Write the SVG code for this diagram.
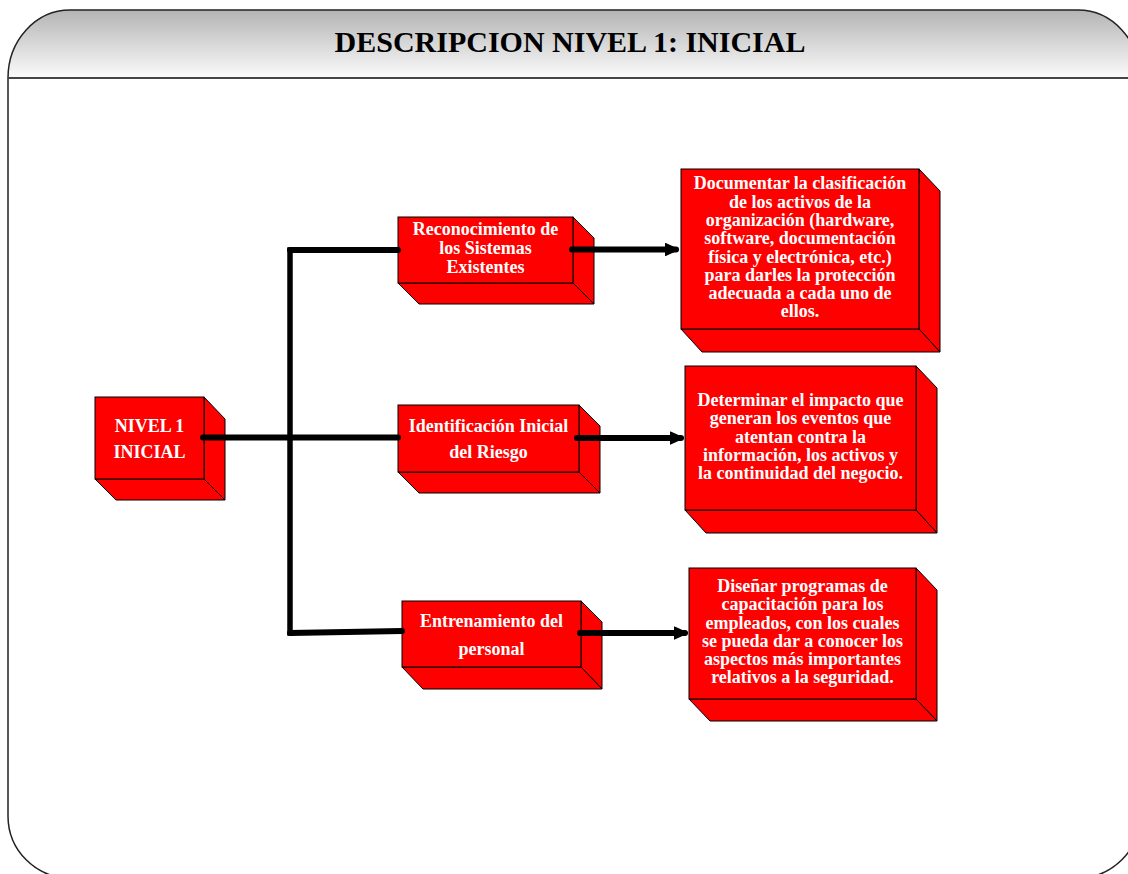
<svg xmlns="http://www.w3.org/2000/svg" width="1128" height="874" viewBox="0 0 1128 874">
  <style>
    .face { fill: #ff0000; stroke: #000000; stroke-width: 1; stroke-linejoin: miter; }
    .label { font-family: "Liberation Serif", "Times New Roman", serif; font-weight: bold; font-size: 18px; fill: #ffffff; text-anchor: middle; }
    .title { font-family: "Liberation Serif", "Times New Roman", serif; font-weight: bold; font-size: 30px; fill: #000000; text-anchor: middle; }
    .wire { fill: none; stroke: #000000; stroke-width: 6; stroke-linecap: round; stroke-linejoin: round; }
    .trunk { fill: none; stroke: #000000; stroke-width: 5.5; stroke-linecap: butt; }
  </style>
  <defs>
    <linearGradient id="headerFill" x1="0" y1="0" x2="0" y2="1">
      <stop offset="0" stop-color="#b4b4b4"/>
      <stop offset="1" stop-color="#fbfbfb"/>
    </linearGradient>
    <marker id="arrowHead" viewBox="0 0 10 10" refX="8" refY="5" markerWidth="2.2" markerHeight="2.2" orient="auto" markerUnits="strokeWidth">
      <path d="M0,0.5 L10,5 L0,9.5 Z" fill="#000000" stroke="#000000" stroke-width="1" stroke-linejoin="round"/>
    </marker>
  </defs>

  <rect x="0" y="0" width="1128" height="874" fill="#ffffff"/>

  <!-- slide frame with shaded header band -->
  <g id="frame">
    <path d="M8,78 A62,68 0 0 1 70,10 L1078,10 A62,68 0 0 1 1140,78 Z" fill="url(#headerFill)"/>
    <path d="M8,78 A62,68 0 0 1 70,10 L1078,10 A62,68 0 0 1 1140,78 L1140,816 A62,62 0 0 1 1078,878 L70,878 A62,62 0 0 1 8,816 Z" fill="none" stroke="#222222" stroke-width="1.5"/>
    <line x1="8" y1="78" x2="1140" y2="78" stroke="#444444" stroke-width="2"/>
    <text class="title" x="570" y="52">DESCRIPCION NIVEL 1: INICIAL</text>
  </g>

  <!-- level node -->
  <g id="nivel1">
    <polygon class="face" points="204,397 225,419 225,500 204,479"/>
    <polygon class="face" points="95,479 204,479 225,500 116,500"/>
    <rect class="face" x="95" y="397" width="109" height="82"/>
    <text class="label" x="149.5" y="431.5">NIVEL 1<tspan x="149.5" y="458.3">INICIAL</tspan></text>
  </g>

  <!-- activity nodes -->
  <g id="reconocimiento">
    <polygon class="face" points="573,217 594,238 594,304 573,283"/>
    <polygon class="face" points="398,283 573,283 594,304 419,304"/>
    <rect class="face" x="398" y="217" width="175" height="66"/>
    <text class="label" x="485.5" y="235">Reconocimiento de<tspan x="485.5" y="254">los Sistemas</tspan><tspan x="485.5" y="272.7">Existentes</tspan></text>
  </g>

  <g id="identificacion">
    <polygon class="face" points="579,405 600,426 600,493 579,472"/>
    <polygon class="face" points="398,472 579,472 600,493 419,493"/>
    <rect class="face" x="398" y="405" width="181" height="67"/>
    <text class="label" x="488.5" y="431.7">Identificación Inicial<tspan x="488.5" y="458.3">del Riesgo</tspan></text>
  </g>

  <g id="entrenamiento">
    <polygon class="face" points="581,601 602,622 602,689 581,667"/>
    <polygon class="face" points="402,667 581,667 602,689 423,689"/>
    <rect class="face" x="402" y="601" width="179" height="66"/>
    <text class="label" x="491.5" y="626.7">Entrenamiento del<tspan x="491.5" y="655">personal</tspan></text>
  </g>

  <!-- description nodes -->
  <g id="documentar">
    <polygon class="face" points="919,169 940,191 940,352 919,329"/>
    <polygon class="face" points="681,329 919,329 940,352 702,352"/>
    <rect class="face" x="681" y="169" width="238" height="160"/>
    <text class="label" x="800" y="189.3">Documentar la clasificación<tspan x="800" y="207.6">de los activos de la</tspan><tspan x="800" y="225.9">organización (hardware,</tspan><tspan x="800" y="244.2">software, documentación</tspan><tspan x="800" y="262.5">física y electrónica, etc.)</tspan><tspan x="800" y="280.8">para darles la protección</tspan><tspan x="800" y="299.1">adecuada a cada uno de</tspan><tspan x="800" y="317.4">ellos.</tspan></text>
  </g>

  <g id="determinar">
    <polygon class="face" points="916,366 937,388 937,533 916,510"/>
    <polygon class="face" points="685,510 916,510 937,533 706,533"/>
    <rect class="face" x="685" y="366" width="231" height="144"/>
    <text class="label" x="800.5" y="405.7">Determinar el impacto que<tspan x="800.5" y="424.1">generan los eventos que</tspan><tspan x="800.5" y="442.5">atentan contra la</tspan><tspan x="800.5" y="460.9">información, los activos y</tspan><tspan x="800.5" y="479.3">la continuidad del negocio.</tspan></text>
  </g>

  <g id="disenar">
    <polygon class="face" points="916,568 937,590 937,721 916,699"/>
    <polygon class="face" points="689,699 916,699 937,721 710,721"/>
    <rect class="face" x="689" y="568" width="227" height="131"/>
    <text class="label" x="802.5" y="592.3">Diseñar programas de<tspan x="802.5" y="610.4">capacitación para los</tspan><tspan x="802.5" y="628.5">empleados, con los cuales</tspan><tspan x="802.5" y="646.6">se pueda dar a conocer los</tspan><tspan x="802.5" y="664.7">aspectos más importantes</tspan><tspan x="802.5" y="682.8">relativos a la seguridad.</tspan></text>
  </g>

  <!-- connectors -->
  <g id="connectors">
    <line class="trunk" x1="290" y1="247.3" x2="290" y2="635.8"/>
    <path class="wire" d="M203,437.5 L398,437.5"/>
    <path class="wire" d="M290,250 L398,250" stroke-linecap="butt"/>
    <path class="wire" d="M290,633 L402,631" stroke-linecap="butt"/>
    <path class="wire" d="M572,249.5 L676,249.5" marker-end="url(#arrowHead)"/>
    <path class="wire" d="M577,438 L681,438" marker-end="url(#arrowHead)"/>
    <path class="wire" d="M580,633 L685,633" marker-end="url(#arrowHead)"/>
  </g>
</svg>
